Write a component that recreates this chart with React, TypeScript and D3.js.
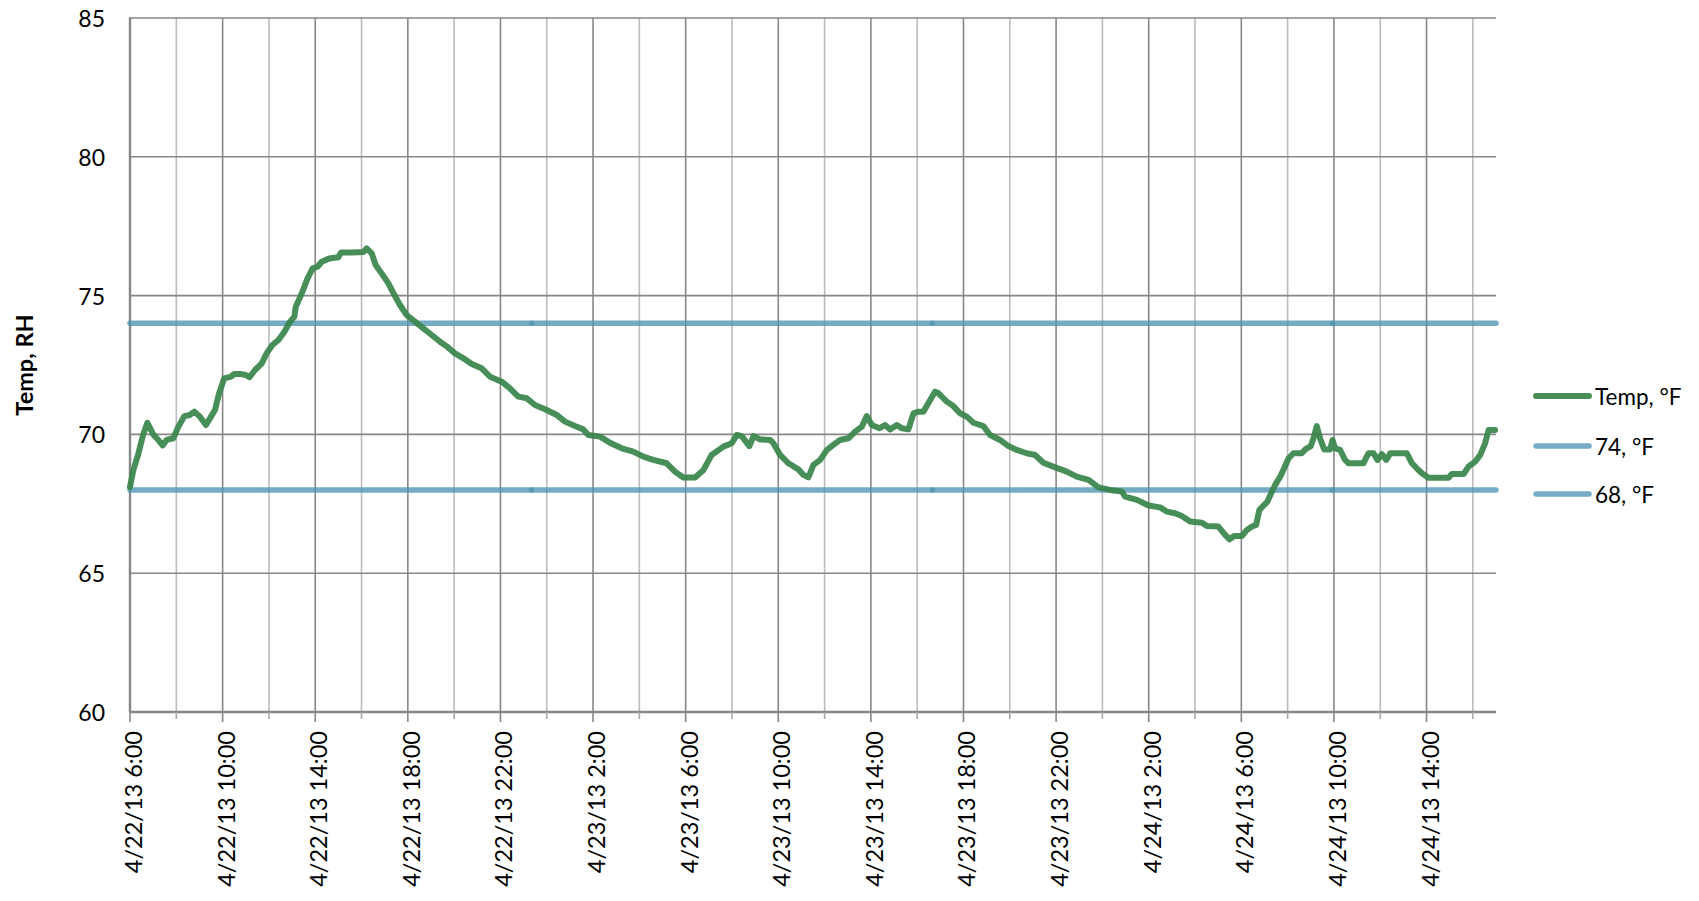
import React from "react";
import * as d3 from "d3";

// ---- data (hours after 4/22/13 6:00, °F) ----
const tempHours = [
  0.0, 0.14, 0.36, 0.57, 0.75, 1.0, 1.22, 1.41, 1.58, 1.87, 2.09, 2.35, 2.59, 2.78, 3.02, 3.28, 3.5, 3.67, 3.85, 4.07,
  4.36, 4.51, 4.75, 5.0, 5.16, 5.4, 5.69, 5.9, 6.15, 6.41, 6.67, 6.91, 7.1, 7.16, 7.42, 7.67, 7.89, 8.1, 8.28, 8.6,
  9.0, 9.11, 9.58, 10.08, 10.22, 10.44, 10.61, 10.87, 11.16, 11.42, 11.66, 11.95, 12.31, 12.67, 13.03, 13.39, 13.68,
  14.04, 14.4, 14.76, 15.19, 15.55, 16.06, 16.41, 16.77, 17.14, 17.49, 18.0, 18.43, 18.79, 19.22, 19.58, 19.8, 20.3,
  20.73, 21.24, 21.74, 22.17, 22.6, 23.18, 23.54, 23.9, 24.41, 24.77, 25.12, 25.63, 25.99, 26.21, 26.42, 26.75, 26.93,
  27.21, 27.65, 27.79, 28.08, 28.44, 28.87, 29.09, 29.3, 29.52, 29.81, 30.1, 30.38, 30.67, 31.03, 31.32, 31.61, 31.82,
  32.04, 32.37, 32.61, 32.83, 33.12, 33.33, 33.62, 33.84, 34.05, 34.27, 34.48, 34.77, 34.92, 35.28, 35.56, 35.85,
  36.14, 36.43, 36.86, 37.15, 37.58, 37.94, 38.3, 38.73, 39.09, 39.45, 39.88, 40.46, 40.89, 41.4, 41.83, 42.33, 42.84,
  42.98, 43.49, 43.99, 44.49, 44.78, 45.14, 45.43, 45.79, 46.3, 46.51, 47.01, 47.3, 47.49, 47.69, 48.03, 48.24, 48.46,
  48.64, 48.78, 48.99, 49.13, 49.29, 49.46, 49.68, 49.85, 50.04, 50.25, 50.61, 50.76, 51.0, 51.12, 51.26, 51.4, 51.58,
  51.84, 51.94, 52.05, 52.27, 52.48, 52.63, 53.27, 53.49, 53.71, 53.88, 54.07, 54.26, 54.43, 55.15, 55.37, 55.58, 55.8,
  56.08, 56.95, 57.09, 57.6, 57.81, 58.1, 58.32, 58.53, 58.68, 58.96,
];
const tempValues = [
  68.1, 68.7, 69.3, 70.0, 70.42, 70.0, 69.8, 69.6, 69.8, 69.86, 70.28, 70.66, 70.7, 70.82, 70.64, 70.34, 70.64, 70.88, 71.48, 72.02,
  72.08, 72.18, 72.18, 72.14, 72.06, 72.32, 72.56, 72.92, 73.22, 73.4, 73.7, 74.06, 74.24, 74.6, 75.08, 75.62, 75.98, 76.04, 76.22, 76.34,
  76.38, 76.55, 76.55, 76.57, 76.7, 76.52, 76.1, 75.8, 75.44, 75.02, 74.66, 74.3, 74.06, 73.82, 73.58, 73.34, 73.17,
  72.92, 72.74, 72.54, 72.38, 72.08, 71.9, 71.66, 71.36, 71.3, 71.06, 70.88, 70.7, 70.46, 70.3, 70.18, 69.98, 69.92,
  69.7, 69.5, 69.38, 69.2, 69.08, 68.96, 68.66, 68.45, 68.45, 68.72, 69.26, 69.56, 69.68, 69.98, 69.94, 69.58, 69.94,
  69.82, 69.8, 69.68, 69.26, 68.96, 68.74, 68.54, 68.45, 68.9, 69.08, 69.44, 69.62, 69.8, 69.86, 70.1, 70.28, 70.66,
  70.34, 70.22, 70.34, 70.18, 70.34, 70.22, 70.18, 70.76, 70.82, 70.82, 71.12, 71.54, 71.48, 71.18, 71.02, 70.76,
  70.64, 70.42, 70.3, 69.98, 69.8, 69.58, 69.44, 69.32, 69.26, 68.98, 68.84, 68.66, 68.48, 68.36, 68.09, 68.0, 67.94,
  67.76, 67.64, 67.44, 67.37, 67.22, 67.16, 67.06, 66.86, 66.82, 66.7, 66.68, 66.38, 66.22, 66.34, 66.34, 66.56, 66.68,
  66.74, 67.28, 67.46, 67.58, 67.88, 68.18, 68.48, 68.78, 69.14, 69.32, 69.32, 69.46, 69.58, 69.86, 70.3, 69.86, 69.46,
  69.46, 69.8, 69.5, 69.44, 69.08, 68.96, 68.96, 69.32, 69.32, 69.08, 69.29, 69.08, 69.32, 69.32, 68.96, 68.78, 68.6,
  68.44, 68.44, 68.57, 68.57, 68.84, 69.02, 69.26, 69.68, 70.16, 70.16,
];
const refHours = [0, 17.35, 34.66, 51.94, 59];
const upperValues = [74, 74, 74, 74, 74];
const lowerValues = [68, 68, 68, 68, 68];
const yTicks = [60, 65, 70, 75, 80, 85];
const seriesNames = ["Temp, °F", "74, °F", "68, °F"];
const yTitle = "Temp, RH";

const START = new Date(2013, 3, 22, 6, 0);
const END = new Date(2013, 3, 24, 17, 0);
const toDate = (h: number) => new Date(START.getTime() + h * 3600000);

const W = 1699;
const H = 901;
const L = 130;
const R = 1496;
const T = 18;
const B = 712;
const FONT = "Lato, 'Open Sans', sans-serif";
const GREEN = "#37844a";
const BLUE = "#4f93b4";

export default function App() {
  const x = d3.scaleTime().domain([START, END]).range([L, R]);
  const y = d3.scaleLinear().domain([60, 85]).range([B, T]);
  const ticks2h = x.ticks(d3.timeHour.every(2)!);
  const isMajor = (d: Date) => (Math.round((d.getTime() - START.getTime()) / 3600000) % 4) === 0;
  const fmt = d3.timeFormat("%-m/%-d/%y %-H:%M");

  const tempPts = tempHours.map((h, i) => [toDate(h), tempValues[i]] as [Date, number]);
  const line = d3
    .line<[Date, number]>()
    .x((d) => x(d[0]))
    .y((d) => y(d[1]));

  const refSegments = (vals: number[]) =>
    refHours.slice(1).map((h, i) => [
      [toDate(refHours[i]), vals[i]] as [Date, number],
      [toDate(h), vals[i + 1]] as [Date, number],
    ]);

  const legendY = [396, 446, 494];
  const legendColors = [GREEN, BLUE, BLUE];

  return (
    <svg
      width={W}
      height={H}
      style={{ position: "absolute", left: 0, top: 0, background: "#fff" }}
      fontFamily={FONT}
    >
      {/* vertical gridlines */}
      {ticks2h.map((d, i) =>
        x(d) > L + 1 ? (
          <line
            key={"vg" + i}
            x1={x(d)}
            x2={x(d)}
            y1={T}
            y2={B}
            stroke={isMajor(d) ? "#878787" : "#bcbcbc"}
            strokeWidth={1.6}
          />
        ) : null
      )}
      {/* horizontal gridlines */}
      {yTicks.map((v) =>
        v > 60 ? (
          <line key={"hg" + v} x1={L} x2={R} y1={y(v)} y2={y(v)} stroke="#878787" strokeWidth={1.6} />
        ) : null
      )}
      {/* axes */}
      <line x1={L} x2={L} y1={T - 0.8} y2={B} stroke="#878787" strokeWidth={2.4} />
      <line x1={L - 1} x2={R} y1={B} y2={B} stroke="#878787" strokeWidth={2.4} />
      {ticks2h.map((d, i) => (
        <line
          key={"tk" + i}
          x1={x(d)}
          x2={x(d)}
          y1={B}
          y2={B + (isMajor(d) ? 10 : 7)}
          stroke={isMajor(d) ? "#878787" : "#a8a8a8"}
          strokeWidth={1.6}
        />
      ))}
      {/* y tick labels */}
      {yTicks.map((v) => (
        <text key={"yl" + v} x={105} y={y(v)} textAnchor="end" dominantBaseline="central" fontSize={23} fill="#000">
          {v}
        </text>
      ))}
      {/* x tick labels */}
      {ticks2h.filter(isMajor).map((d, i) => (
        <text
          key={"xl" + i}
          transform={`translate(${x(d) + 3},${B + 19}) rotate(-90)`}
          textAnchor="end"
          dominantBaseline="central"
          fontSize={23.5}
          fill="#000"
        >
          {fmt(d)}
        </text>
      ))}
      {/* y title */}
      <text
        transform={`translate(24,${(T + B) / 2}) rotate(-90)`}
        textAnchor="middle"
        dominantBaseline="central"
        fontSize={23.5}
        fontWeight="bold"
        fill="#000"
      >
        {yTitle}
      </text>
      {/* reference lines */}
      {[upperValues, lowerValues].map((vals, k) =>
        refSegments(vals).map((seg, i) => (
          <path
            key={"ref" + k + "-" + i}
            d={line(seg) || ""}
            fill="none"
            stroke={BLUE}
            strokeOpacity={0.78}
            strokeWidth={5.5}
            strokeLinecap="round"
          />
        ))
      )}
      {/* temperature */}
      <path
        d={line(tempPts) || ""}
        fill="none"
        stroke={GREEN}
        strokeOpacity={0.92}
        strokeWidth={6}
        strokeLinecap="round"
        strokeLinejoin="round"
      />
      {/* legend */}
      {seriesNames.map((name, i) => (
        <g key={"lg" + i}>
          <line
            x1={1536}
            x2={1589}
            y1={legendY[i]}
            y2={legendY[i]}
            stroke={legendColors[i]}
            strokeOpacity={i === 0 ? 0.92 : 0.78}
            strokeWidth={i === 0 ? 6 : 5.5}
            strokeLinecap="round"
          />
          <text x={1595} y={legendY[i]} dominantBaseline="central" fontSize={22.5} fill="#000">
            {name}
          </text>
        </g>
      ))}
    </svg>
  );
}
